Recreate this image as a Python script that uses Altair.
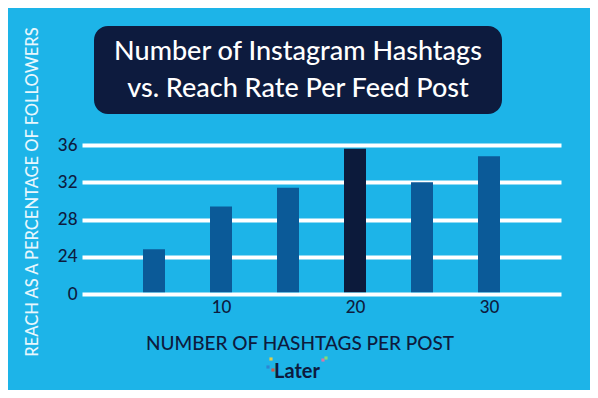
import altair as alt
import pandas as pd

hashtags = [5, 10, 15, 20, 25, 30]
reach = [24.8, 29.4, 31.4, 35.6, 32.0, 34.8]
y_ticks = [20, 24, 28, 32, 36]
y_tick_labels = ["0", "24", "28", "32", "36"]
x_ticks = [10, 20, 30]
highlight = 20
title_lines = ["Number of Instagram Hashtags", "vs. Reach Rate Per Feed Post"]
x_title = "NUMBER OF HASHTAGS PER POST"
y_title = "REACH AS A PERCENTAGE OF FOLLOWERS"
brand = "Later"

BG = "#1db4e8"
MID = "#0b5a98"
DARK = "#0c1a3b"
NAVY = "#0d1b3e"
FONT = "Lato"

df = pd.DataFrame({"hashtags": hashtags, "reach": reach})
one = pd.DataFrame({"a": [0]})

label_expr = " : ".join(
    [f"datum.value == {v} ? '{l}'" for v, l in zip(y_ticks, y_tick_labels)] + ["datum.label"]
)

bars = alt.Chart(df).mark_bar(size=22).encode(
    x=alt.X(
        "hashtags:Q",
        scale=alt.Scale(domain=[0, 35], nice=False, zero=False),
        axis=alt.Axis(values=x_ticks, grid=False, domain=False, ticks=False,
                      labelPadding=5, labelFontSize=17, labelColor=NAVY,
                      labelFont=FONT, labelFontWeight=500, title=None),
    ),
    y=alt.Y(
        "reach:Q",
        scale=alt.Scale(domain=[20, 36], nice=False, zero=False),
        axis=alt.Axis(values=y_ticks, labelExpr=label_expr, grid=True,
                      gridColor="white", gridWidth=4, gridOpacity=1,
                      domain=False, ticks=False, labelPadding=5,
                      labelFontSize=17, labelColor=NAVY, labelFont=FONT,
                      labelFontWeight=500, title=None),
    ),
    y2=alt.datum(20.2),
    color=alt.condition(alt.datum.hashtags == highlight, alt.value(DARK), alt.value(MID)),
)

box = alt.Chart(one).mark_rect(cornerRadius=14, color=NAVY).encode(
    x=alt.value(12), x2=alt.value(420), y=alt.value(-119), y2=alt.value(-31)
)

title = alt.Chart(one).mark_text(
    font=FONT, fontSize=27, fontWeight=500, color="white", lineHeight=37,
    align="center", baseline="middle"
).encode(x=alt.value(216), y=alt.value(-93), text=alt.value(title_lines))

xt = alt.Chart(one).mark_text(
    font=FONT, fontSize=19, fontWeight=500, color=NAVY, align="center", baseline="alphabetic"
).encode(x=alt.value(218), y=alt.value(205), text=alt.value(x_title))

yt = alt.Chart(one).mark_text(
    font=FONT, fontSize=16.5, fontWeight=500, color="#e8f7fd", align="center",
    baseline="middle", angle=270
).encode(x=alt.value(-49), y=alt.value(47), text=alt.value(y_title))

logo = alt.Chart(one).mark_text(
    font=FONT, fontSize=20, fontWeight="bold", color=NAVY, align="center", baseline="middle"
).encode(x=alt.value(215), y=alt.value(227), text=alt.value(brand))

def dot(x, y, c):
    return alt.Chart(one).mark_square(size=10, opacity=0.9, color=c).encode(
        x=alt.value(x), y=alt.value(y)
    )

dots = [
    dot(189, 214, "#f5d33a"),
    dot(186, 222, "#2f7fd0"),
    dot(191, 225, "#e0503a"),
    dot(241, 215, "#ef6fa0"),
    dot(244, 213, "#8fe06a"),
]

chart = alt.layer(box, title, bars, xt, yt, *dots, logo).properties(
    width=479, height=149,
    autosize=alt.AutoSizeParams(type="none"),
    padding={"left": 74, "top": 137, "right": 29, "bottom": 96},
    background=BG,
).configure_view(stroke=None)

chart.save("out.html", embed_options={"renderer": "svg", "actions": False})
